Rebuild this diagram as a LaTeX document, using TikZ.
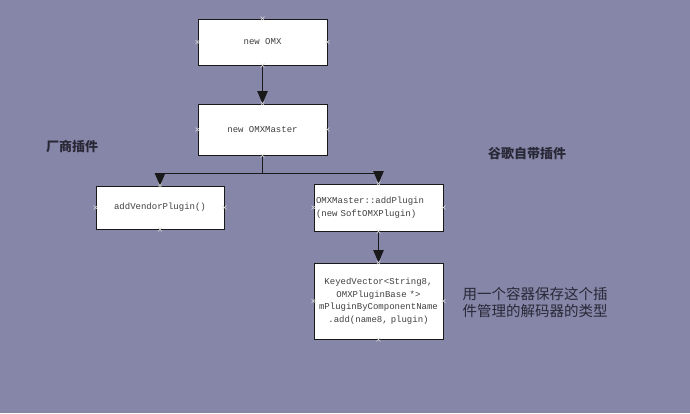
\documentclass[tikz,border=0pt]{standalone}
\usepackage{fontspec}
\setmonofont{Liberation Mono}
\newfontfamily\cjk{Noto Sans CJK SC}
\usetikzlibrary{arrows.meta}
\definecolor{bg}{RGB}{134,134,168}
\definecolor{lbl}{RGB}{40,40,55}
\tikzset{
  box/.style={draw=black!90, line width=1pt, fill=white, inner sep=2pt,
    font=\ttfamily\fontsize{9}{12.5}\selectfont, text=black!75},
  arr/.style={line width=1pt, draw=black!90, -{Triangle[width=10.5pt,length=12.5pt]}},
  conn/.style={line width=1pt, draw=black!90},
  xmarker/.style={draw=white!85!black, line width=0.6pt},
  cnlabel/.style={font=\cjk\bfseries\fontsize{13}{15}\selectfont, text=lbl},
  cnnote/.style={font=\cjk\fontsize{14.5}{17}\selectfont, text=lbl, align=left}
}
\begin{document}
\begin{tikzpicture}[x=1pt,y=-1pt]
\useasboundingbox[fill=bg] (0,0) rectangle (690,413);
\node[box, minimum width=129pt, minimum height=46pt] (a) at (262.5,42) {new OMX};
\node[box, minimum width=129pt, minimum height=51pt] (b) at (262.5,129.5) {new OMXMaster};
\node[box, minimum width=128pt, minimum height=43pt] (c) at (160,207.5) {addVendorPlugin()};
\node[box, minimum width=129pt, minimum height=47pt, text width=125pt, align=left] (d) at (378.5,207.5) {OMXMaster::addPlugin\\(new SoftOMXPlugin)};
\node[box, minimum width=129pt, minimum height=76pt, text width=125pt, align=center] (e) at (378.5,301) {KeyedVector<String8,\\OMXPluginBase *>\\mPluginByComponentName\\.add(name8, plugin)};
\coordinate (j) at (262.5,173);
\draw[arr] (a.south) -- (b.north);
\draw[conn] (b.south) -- (j);
\draw[arr] (j) -| (c.north);
\draw[arr] (j) -| (d.north);
\draw[arr] (d.south) -- (e.north);
\foreach \n in {a,b,c,d,e}{
  \foreach \an in {north,south,east,west}{
    \draw[xmarker] ([shift={(-2,-2)}]\n.\an) -- ([shift={(2,2)}]\n.\an)
                ([shift={(-2,2)}]\n.\an) -- ([shift={(2,-2)}]\n.\an);
  }
}
\node[cnlabel] (l1) at (72,147) {厂商插件};
\node[cnlabel] (l2) at (527,154) {谷歌自带插件};
\node[cnnote, anchor=west] (l3) at (459,302) {用一个容器保存这个插\\件管理的解码器的类型};
\end{tikzpicture}
\end{document}
